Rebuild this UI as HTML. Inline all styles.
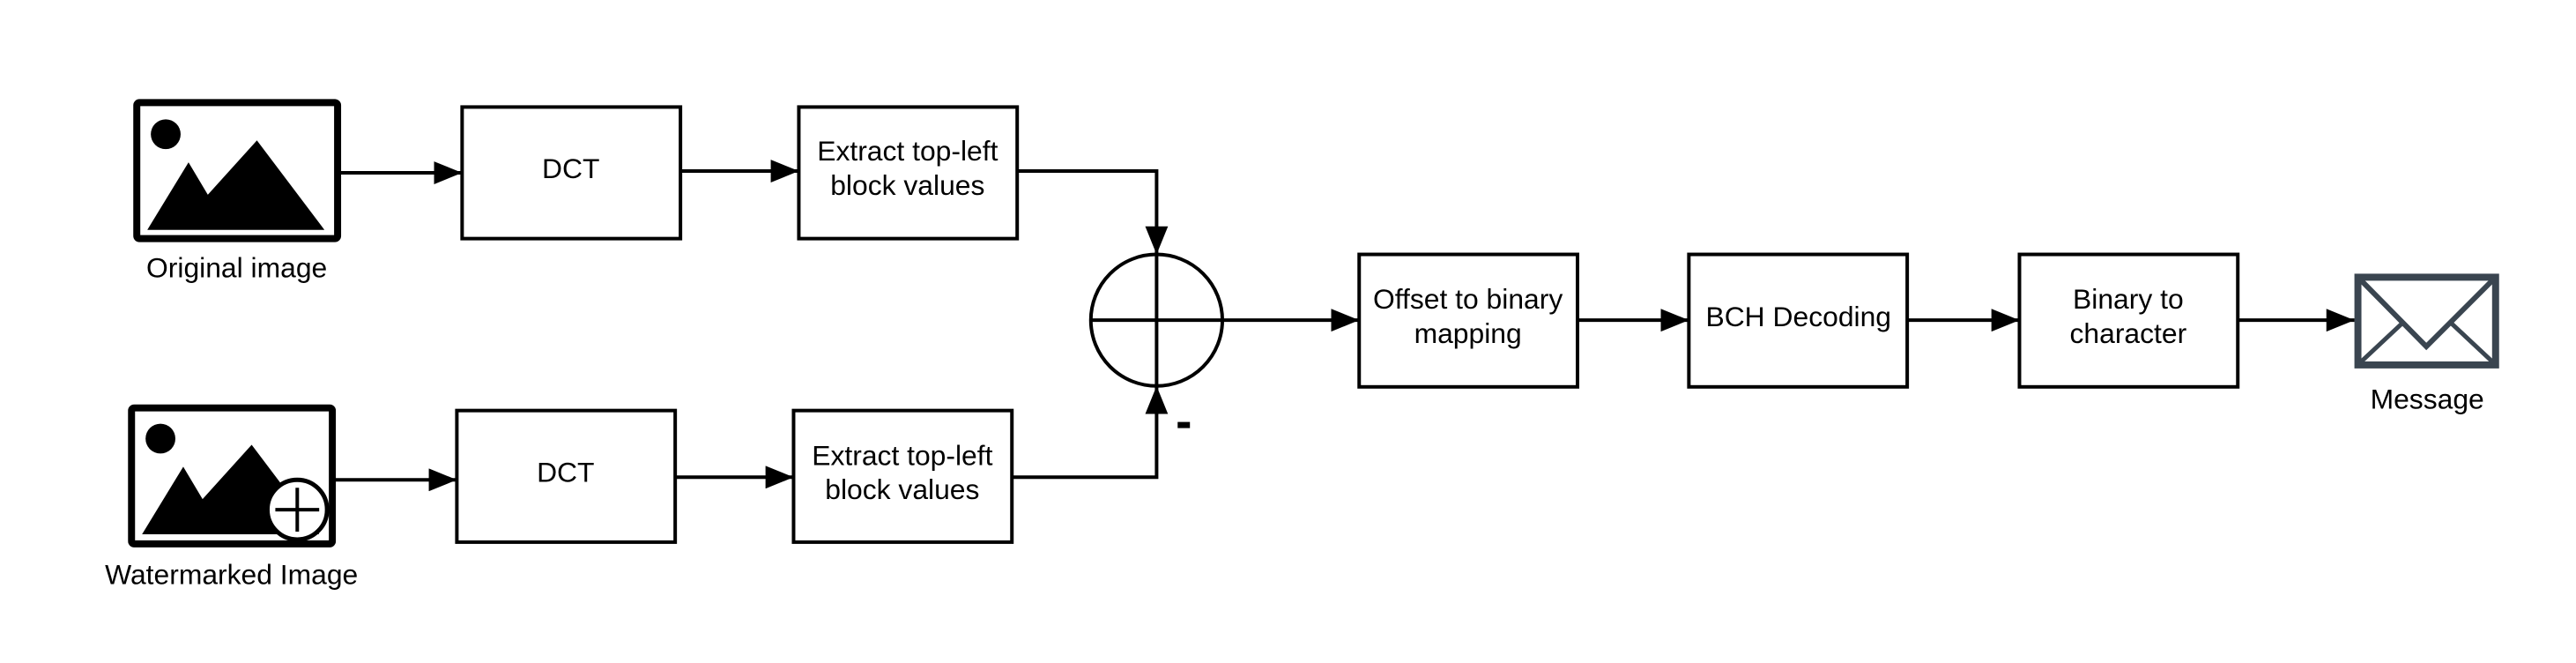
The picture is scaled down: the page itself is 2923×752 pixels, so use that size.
<!DOCTYPE html>
<html><head><meta charset="utf-8"><style>
html,body{margin:0;padding:0;background:#fff;}
svg{display:block;font-family:"Liberation Sans",sans-serif;}
</style></head><body>
<svg width="2923" height="752" viewBox="0 0 2923 752">
<defs>
<marker id="a" viewBox="0 0 10 10" refX="10" refY="5" markerWidth="32" markerHeight="26" markerUnits="userSpaceOnUse" orient="auto" preserveAspectRatio="none"><path d="M0,0 L10,5 L0,10z" fill="#000"/></marker></defs>
<g transform="scale(0.995)">
<g stroke="#000" stroke-width="4" fill="none">
<g>
<rect x="156" y="117" width="229" height="155" stroke-width="8" rx="3"/>
<circle cx="189" cy="153" r="17" fill="#000" stroke="none"/>
<path d="M168,262 L215,185 L237,222 L293,160 L370,262z" fill="#000" stroke="none"/>
</g>
<g>
<rect x="150" y="465" width="229" height="155" stroke-width="8" rx="3"/>
<circle cx="183" cy="500" r="17" fill="#000" stroke="none"/>
<path d="M162,609 L209,532 L231,569 L287,507 L364,609z" fill="#000" stroke="none"/>
<circle cx="339" cy="581" r="34" fill="#fff" stroke-width="5"/>
<line x1="339" y1="556" x2="339" y2="606"/><line x1="314" y1="581" x2="364" y2="581"/>
</g>
<rect x="527" y="122" width="249" height="150"/>
<rect x="911" y="122" width="249" height="150"/>
<rect x="521" y="468" width="249" height="150"/>
<rect x="905" y="468" width="249" height="150"/>
<rect x="1550" y="290" width="249" height="151"/>
<rect x="1926" y="290" width="249" height="151"/>
<rect x="2303" y="290" width="249" height="151"/>
<g>
<ellipse cx="1319" cy="365" rx="75" ry="75"/>
<line x1="1244" y1="365" x2="1394" y2="365"/><line x1="1319" y1="290" x2="1319" y2="440"/>
</g>
<g>
<rect x="2689" y="316" width="157" height="100" stroke-width="8" stroke="#3a4550"/>
<path d="M2693,320 L2767,395 L2842,320" stroke-width="6" stroke="#3a4550"/>
<path d="M2693,412 L2740,368 M2842,412 L2795,368" stroke-width="5" stroke="#3a4550"/>
</g>
<g>
<line x1="388" y1="197" x2="527" y2="197" marker-end="url(#a)"/>
<line x1="776" y1="195" x2="911" y2="195" marker-end="url(#a)"/>
<path d="M1160,195 H1319 V290" marker-end="url(#a)"/>
<line x1="382" y1="547" x2="521" y2="547" marker-end="url(#a)"/>
<line x1="770" y1="544" x2="905" y2="544" marker-end="url(#a)"/>
<path d="M1154,544 H1319 V440" marker-end="url(#a)"/>
<line x1="1394" y1="365" x2="1550" y2="365" marker-end="url(#a)"/>
<line x1="1799" y1="365" x2="1926" y2="365" marker-end="url(#a)"/>
<line x1="2175" y1="365" x2="2303" y2="365" marker-end="url(#a)"/>
<line x1="2552" y1="365" x2="2685" y2="365" marker-end="url(#a)"/>
</g>
</g>
<g font-size="32" text-anchor="middle" fill="#000">
<text x="270" y="316">Original image</text>
<text x="264" y="666">Watermarked Image</text>
<text x="2768" y="466">Message</text>
<text x="651" y="203">DCT</text>
<text x="1035" y="183"><tspan x="1035">Extract top-left</tspan><tspan x="1035" dy="39">block values</tspan></text>
<text x="645" y="549">DCT</text>
<text x="1029" y="530"><tspan x="1029">Extract top-left</tspan><tspan x="1029" dy="39">block values</tspan></text>
<text x="1674" y="352"><tspan x="1674">Offset to binary</tspan><tspan x="1674" dy="39">mapping</tspan></text>
<text x="2051" y="372">BCH Decoding</text>
<text x="2427" y="352"><tspan x="2427">Binary to</tspan><tspan x="2427" dy="39">character</tspan></text>
</g>
<rect x="1343" y="481" width="14" height="7" fill="#000"/>
</g>
</svg>
</body></html>
